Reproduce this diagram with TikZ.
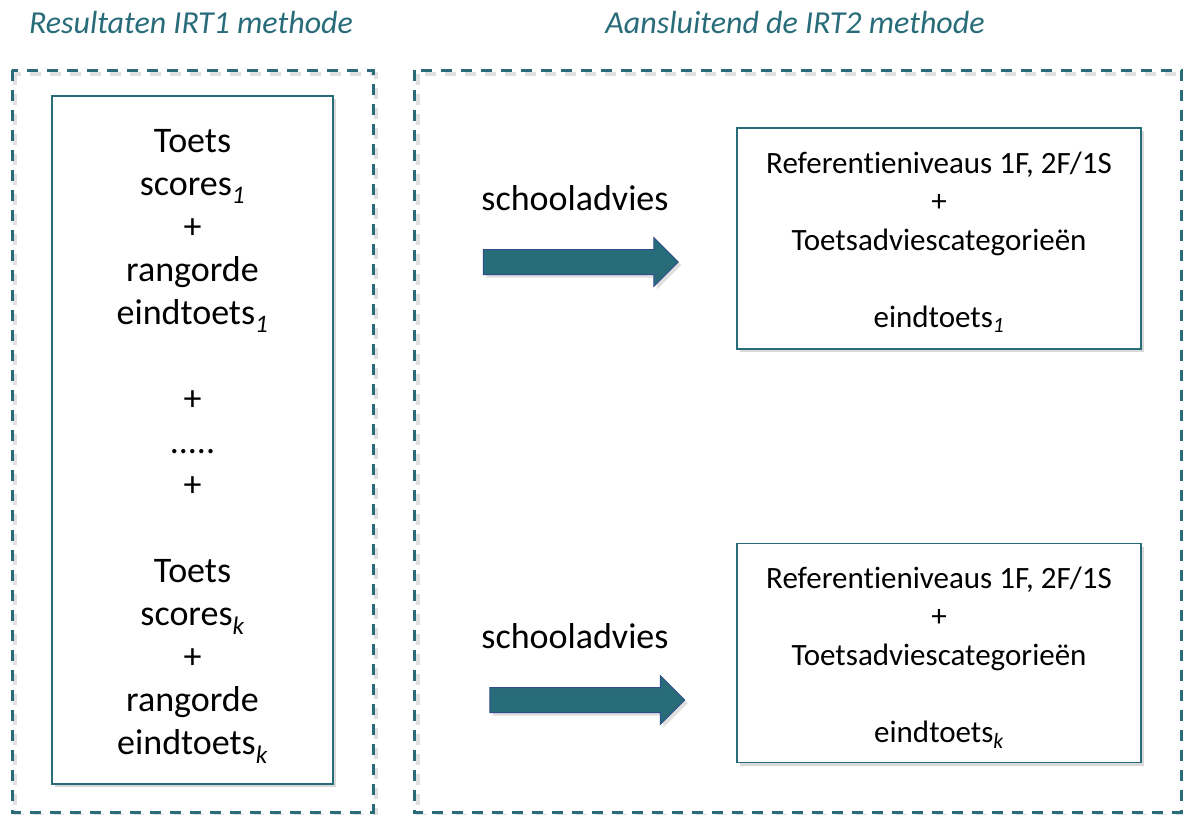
\documentclass[tikz,border=0pt]{standalone}
\usepackage{fontspec}
\setmainfont[Ligatures={NoCommon,NoRare}]{Carlito}
\usetikzlibrary{positioning,shapes.arrows,shadows}
\definecolor{irtteal}{RGB}{40,108,122}
\definecolor{arrowrim}{RGB}{48,78,140}
\newcommand{\tsub}[1]{\textsubscript{\itshape #1}}

\begin{document}
\begin{tikzpicture}[x=1pt,y=-1pt,
    frame/.style={draw=irtteal, line width=3pt, dash pattern=on 11pt off 9pt},
    frameshade/.style={draw=black!12, line width=4pt, dash pattern=on 11pt off 9pt},
    resbox/.style={rectangle, draw=irtteal, line width=1.5pt, fill=white, align=center,
        drop shadow={opacity=0.3, shadow xshift=3pt, shadow yshift=-3pt}},
    blockarrow/.style={single arrow, draw=arrowrim, fill=irtteal, line width=1pt,
        inner xsep=0pt, inner ysep=12pt, single arrow head extend=12pt,
        minimum height=195pt,
        drop shadow={opacity=0.25, shadow xshift=3pt, shadow yshift=-3pt}},
    title/.style={font=\fontsize{32}{36}\selectfont\itshape, text=irtteal},
    label/.style={font=\fontsize{36}{43}\selectfont}]
    \useasboundingbox (0,0) rectangle (1183,814);

    % kaders
    \draw[frameshade] (15,74) rectangle (376,816);
    \draw[frameshade] (418,74) rectangle (1185,816);
    \draw[frame] (12,70) rectangle (373,812);
    \draw[frame] (414,70) rectangle (1181,812);

    \node[title] (titel1) at (191,23) {Resultaten IRT1 methode};
    \node[title] (titel2) at (795,23) {Aansluitend de IRT2 methode};

    \node[resbox, minimum width=281pt, minimum height=688pt,
        font=\fontsize{36}{43}\selectfont] (toetsen) at (192.5,440)
        {\rule{0pt}{36pt}Toets\\scores\tsub{1}\\+\\rangorde\\eindtoets\tsub{1}\\~\\+\\.....\\+\\~\\
         Toets\\scores\tsub{k}\\+\\rangorde\\eindtoets\tsub{k}};

    \node[resbox, minimum width=404pt, minimum height=221pt,
        font=\fontsize{31}{38.5}\selectfont] (niveau1) at (939,238.5)
        {\rule{0pt}{29pt}Referentieniveaus 1F, 2F/1S\\+\\Toetsadviescategorieën\\~\\eindtoets\tsub{1}};
    \node[resbox, minimum width=404pt, minimum height=219pt,
        font=\fontsize{31}{38.5}\selectfont] (niveau2) [below=193pt of niveau1]
        {\rule{0pt}{31pt}Referentieniveaus 1F, 2F/1S\\+\\Toetsadviescategorieën\\~\\eindtoets\tsub{k}};

    \node[blockarrow] (pijl1) at (574.5,262) {};
    \node[blockarrow] (pijl2) at (581,700) {};

    \node[label] (advies1) at (575,198) {schooladvies};
    \node[label] (advies2) at (575,636) {schooladvies};
\end{tikzpicture}
\end{document}
